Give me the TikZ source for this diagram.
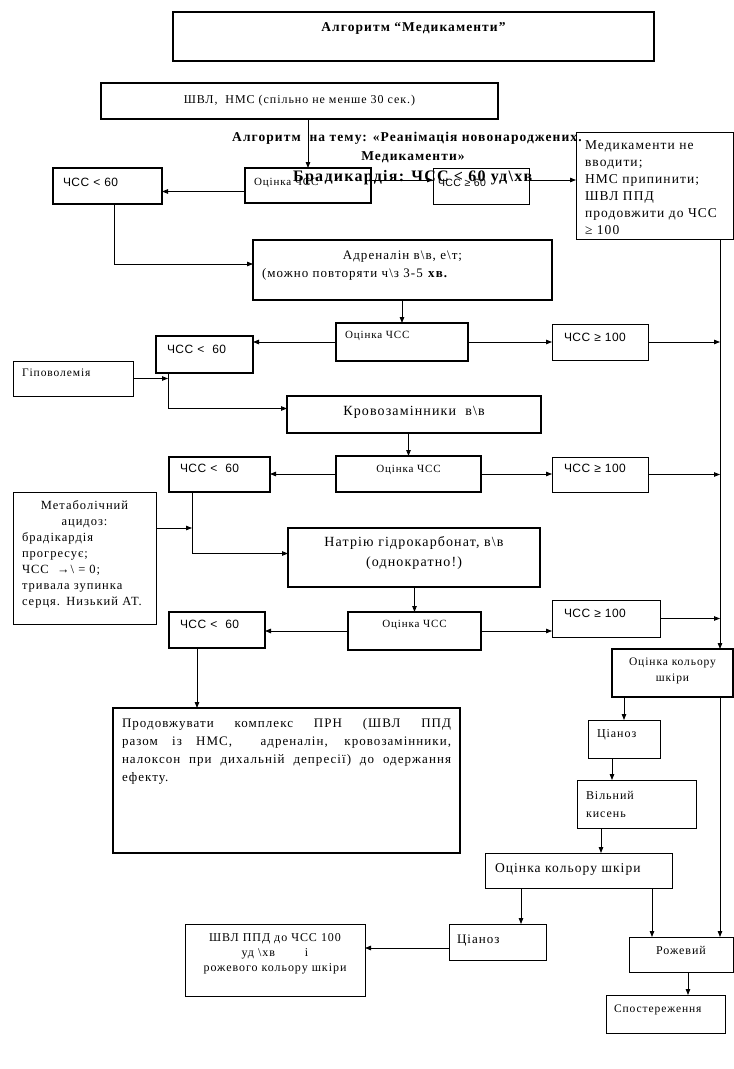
\documentclass[tikz,border=0pt]{standalone}
\usepackage{fontspec}
\setmainfont{Liberation Serif}[LetterSpace=8]
\newfontfamily\arialf{Liberation Sans}[LetterSpace=4]
\usetikzlibrary{arrows.meta}
\newcommand\setfs[2]{\fontsize{#1}{#2}\selectfont}

\begin{document}
\begin{tikzpicture}[x=1pt,y=-1pt,
  heavy/.style={draw,line width=2.6pt,anchor=north west,inner ysep=0pt,outer sep=0pt},
  light/.style={draw,line width=0.8pt,anchor=north west,inner ysep=0pt,outer sep=0pt},
  link/.style={line width=0.8pt,-{Triangle[length=6pt,width=4.5pt]}}]
\useasboundingbox (0,0) rectangle (734,1069);

\node[heavy,minimum width=481pt,text height=19pt,text depth=30pt,font=\bfseries\setfs{13.5}{16}] (title) at (173,12) {Алгоритм “Медикаменти”};
\node[heavy,minimum width=397pt,text height=20.5pt,text depth=15.5pt,font=\setfs{12}{14}] (vent) at (101,83) {ШВЛ,\ \ НМС (спільно не менше 30 сек.)};

\node[heavy,inner xsep=9pt,text width=108pt,align=left,text height=17.5pt,text depth=17.5pt,font=\setfs{11}{13}] (ocin1) at (245,168) {Оцінка ЧСС};
\node[heavy,inner xsep=10pt,text width=89pt,align=left,text height=18pt,text depth=18pt,font=\arialf\setfs{12}{14}] (lt1) at (53,168) {ЧСС < 60};
\node[light,inner xsep=5pt,text width=86pt,align=left,text height=18.5pt,text depth=17.5pt,font=\arialf\setfs{10.5}{12}] (ge60) at (433,168) {ЧСС ≥ 60};
\node[light,inner xsep=9pt,text width=139pt,align=left,text height=17pt,text depth=90pt,font=\setfs{13.5}{17}] (med) at (576,132) {Медикаменти не\\ вводити;\\ НМС припинити;\\ ШВЛ ППД\\ продовжити до ЧСС\\ ≥ 100};

\node[anchor=base west,inner sep=0pt,font=\bfseries\setfs{13.5}{16}] (head1) at (232,141) {Алгоритм\ \ на тему: «Реанімація новонароджених.};
\node[anchor=base,inner sep=0pt,font=\bfseries\setfs{13.5}{16}] (head2) at (413,160) {Медикаменти»};
\node[anchor=base west,inner sep=0pt,font=\bfseries\setfs{16}{19}] (head3) at (293,181) {Брадикардія: ЧСС < 60 уд\textbackslash хв};

\node[heavy,inner xsep=9pt,text width=281pt,align=left,text height=19pt,text depth=41pt,font=\setfs{13}{18}] (adr) at (253,240) {{\centering Адреналін в\textbackslash в, е\textbackslash т;\par}(можно повторяти ч\textbackslash з 3-5 \textbf{хв.}};

\node[heavy,inner xsep=9pt,text width=114pt,align=left,text height=15.5pt,text depth=22.5pt,font=\setfs{11}{13}] (ocin2) at (336,323) {Оцінка ЧСС};
\node[heavy,inner xsep=11pt,text width=75pt,align=left,text height=17pt,text depth=20pt,font=\arialf\setfs{12}{14}] (lt2) at (156,336) {ЧСС <\ \ 60};
\node[light,inner xsep=12pt,text width=72pt,align=left,text height=17pt,text depth=19pt,font=\arialf\setfs{12}{14}] (ge2) at (552,324) {ЧСС ≥ 100};
\node[light,inner xsep=9pt,text width=102pt,align=left,text height=15.5pt,text depth=19.5pt,font=\setfs{11.5}{13}] (hypo) at (13,361) {Гіповолемія};
\node[heavy,minimum width=254pt,text height=19pt,text depth=18pt,font=\setfs{14}{16}] (krov) at (287,396) {Кровозамінники\ \ в\textbackslash в};

\node[heavy,minimum width=145pt,text height=16.5pt,text depth=19.5pt,font=\setfs{11}{13}] (ocin3) at (336,456) {Оцінка ЧСС};
\node[heavy,inner xsep=11pt,text width=79pt,align=left,text height=15pt,text depth=20pt,font=\arialf\setfs{12}{14}] (lt3) at (169,457) {ЧСС <\ \ 60};
\node[light,inner xsep=12pt,text width=72pt,align=left,text height=15pt,text depth=20pt,font=\arialf\setfs{12}{14}] (ge3) at (552,457) {ЧСС ≥ 100};
\node[light,inner xsep=9pt,text width=125pt,align=left,text height=17pt,text depth=115pt,font=\setfs{12.5}{16}] (metab) at (13,492) {{\centering Метаболічний\\ ацидоз:\par}брадікардія\\ прогресує;\\ ЧСС\ \ →\textbackslash\ = 0;\\ тривала зупинка\\ серця. Низький АТ.};
\node[heavy,inner xsep=9pt,text width=234pt,align=center,text height=18pt,text depth=41pt,font=\setfs{14}{20.5}] (natr) at (288,528) {Натрію гідрокарбонат, в\textbackslash в\\ (однократно!)};

\node[heavy,minimum width=133pt,text height=15.5pt,text depth=22.5pt,font=\setfs{11}{13}] (ocin4) at (348,612) {Оцінка ЧСС};
\node[heavy,inner xsep=11pt,text width=74pt,align=left,text height=16pt,text depth=20pt,font=\arialf\setfs{12}{14}] (lt4) at (169,612) {ЧСС <\ \ 60};
\node[light,inner xsep=12pt,text width=84pt,align=left,text height=17pt,text depth=20pt,font=\arialf\setfs{12}{14}] (ge4) at (552,600) {ЧСС ≥ 100};

\node[heavy,inner xsep=5pt,text width=111pt,align=center,text height=16.5pt,text depth=31.5pt,font=\setfs{11.5}{15.5}] (skin) at (612,649) {Оцінка кольору\\ шкіри};
\node[heavy,inner xsep=9pt,text width=329pt,align=justify,text height=19pt,text depth=126pt,font=\setfs{13}{18.3}] (prod) at (113,708) {Продовжувати комплекс ПРН (ШВЛ ППД\linebreak разом із НМС,\ \ адреналін, кровозамінники,\linebreak налоксон при дихальній депресії) до одержання\linebreak ефекту.};
\node[light,inner xsep=9pt,text width=54pt,align=left,text height=17pt,text depth=21pt,font=\setfs{12}{14}] (cyan1) at (588,720) {Ціаноз};
\node[light,inner xsep=9pt,text width=101pt,align=left,text height=19pt,text depth=29pt,font=\setfs{12}{18}] (oxy) at (577,780) {Вільний\\ кисень};
\node[light,inner xsep=10pt,text width=167pt,align=left,text height=19pt,text depth=16pt,font=\setfs{13.5}{15}] (skin2) at (485,853) {Оцінка кольору шкіри};
\node[light,inner xsep=8pt,text width=81pt,align=left,text height=19pt,text depth=17pt,font=\setfs{13}{15}] (cyan2) at (449,924) {Ціаноз};
\node[light,inner xsep=5pt,text width=170pt,align=center,text height=17.5pt,text depth=54.5pt,font=\setfs{12}{15}] (vent2) at (185,924) {ШВЛ ППД до ЧСС 100\\ уд \textbackslash хв\hspace{2.5em}і\\ рожевого кольору шкіри};
\node[light,minimum width=104pt,text height=17pt,text depth=18pt,font=\setfs{12}{14}] (rose) at (629,937) {Рожевий};
\node[light,inner xsep=8pt,text width=103pt,align=left,text height=17pt,text depth=21pt,font=\setfs{11.5}{13}] (obs) at (606,995) {Спостереження};

\coordinate (o1w) at ([yshift=-6pt]ocin1.west);
\coordinate (g60in) at ([yshift=6pt]ge60.west);
\coordinate (trunk) at ([xshift=-13pt]med.south east);
\coordinate (d1) at ([xshift=7pt]lt1.south);
\coordinate (d2) at ([xshift=12pt]lt2.south west);
\coordinate (d3) at ([xshift=23pt]lt3.south west);
\coordinate (m3) at ([yshift=-36pt]metab.north east);
\coordinate (d4) at ([xshift=28pt]lt4.south west);
\coordinate (c1) at ([xshift=-12pt]cyan1.south);
\coordinate (o1) at ([xshift=24pt]oxy.south west);
\coordinate (s2a) at ([xshift=36pt]skin2.south west);
\coordinate (s2b) at ([xshift=23pt]rose.north west);
\coordinate (cw) at ([yshift=-6pt]cyan2.west);
\coordinate (r1) at ([xshift=7pt]rose.south);

\draw[link] (vent.south -| ocin1.north) -- (ocin1.north);
\draw[link] (o1w) -- (o1w -| lt1.east);
\draw[link] (ocin1.east |- g60in) -- (g60in);
\draw[link] (ge60.east |- g60in) -- (g60in -| med.west);
\draw[link] (d1) |- ([yshift=6pt]adr.west);
\draw[link] (adr.south -| ocin2.north) -- (ocin2.north);
\draw[link] (ocin2.west) -- (ocin2.west -| lt2.east);
\draw[link] (ocin2.east) -- (ocin2.east -| ge2.west);
\draw[link] (trunk) -- (trunk |- skin.north);
\draw[link] (ge2.east) -- (ge2.east -| trunk);
\draw[link] (hypo.east) -- (hypo.east -| d2);
\draw[link] (d2) |- ([yshift=6pt]krov.west);
\draw[link] (krov.south -| ocin3.north) -- (ocin3.north);
\draw[link] (ocin3.west) -- (ocin3.west -| lt3.east);
\draw[link] (ocin3.east) -- (ocin3.east -| ge3.west);
\draw[link] (ge3.east) -- (ge3.east -| trunk);
\draw[link] (m3) -- (m3 -| d3);
\draw[link] (d3) |- ([yshift=4pt]natr.west);
\draw[link] (natr.south -| ocin4.north) -- (ocin4.north);
\draw[link] (ocin4.west) -- (ocin4.west -| lt4.east);
\draw[link] (ocin4.east) -- (ocin4.east -| ge4.west);
\draw[link] (ge4.east) -- (ge4.east -| trunk);
\draw[link] (d4) -- (d4 |- prod.north);
\draw[link] (trunk |- skin.south) -- (trunk |- rose.north);
\draw[link] (cyan1.north |- skin.south) -- (cyan1.north);
\draw[link] (c1) -- (c1 |- oxy.north);
\draw[link] (o1) -- (o1 |- skin2.north);
\draw[link] (s2a) -- (s2a |- cyan2.north);
\draw[link] (s2b |- skin2.south) -- (s2b);
\draw[link] (cw) -- (cw -| vent2.east);
\draw[link] (r1) -- (r1 |- obs.north);
\end{tikzpicture}
\end{document}
